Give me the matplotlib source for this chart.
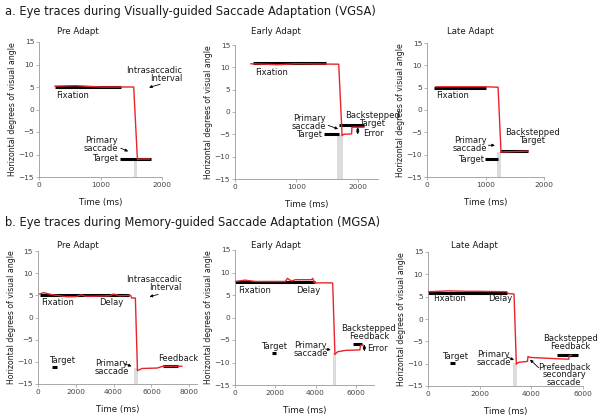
import numpy as np
import matplotlib.pyplot as plt

plt.rcParams['font.family'] = ['DejaVu Sans']

RED = '#e8242c'
BAND = '#dcdcdc'
TXT = '#1a1a1a'

# ---------------- data (time in ms, position in deg) ----------------
# a. Visually-guided saccade adaptation
a_pre_t = [260, 600, 1000, 1350, 1540, 1600, 1650, 1800]
a_pre_eye = [5.2, 5.3, 5.0, 5.0, 5.0, -11.1, -11.0, -11.0]
a_pre_targets = [(260, 1330, 5.0), (1310, 1820, -11.0)]
a_pre_sacc = (1540, 1600, -11.0)

a_early_t = [260, 700, 1000, 1690, 1720, 1745, 1770, 1900, 1905, 2100]
a_early_eye = [10.8, 10.6, 10.8, 10.7, 2.0, -5.3, -5.0, -4.9, -3.4, -3.4]
a_early_targets = [(290, 1490, 11.0), (1450, 1700, -5.0), (1700, 2100, -3.0)]
a_early_sacc = (1670, 1760, -5.0)

a_late_t = [150, 600, 1000, 1215, 1265, 1500, 1730]
a_late_eye = [5.2, 5.2, 5.2, 5.1, -9.4, -9.3, -9.2]
a_late_targets = [(120, 1000, 5.0), (990, 1210, -11.0), (1240, 1730, -9.1)]
a_late_sacc = (1200, 1265, -9.3)

# b. Memory-guided saccade adaptation
b_pre_t = [100, 300, 700, 1000, 1500, 2000, 2300, 2500, 3000, 3800, 4000,
           4300, 4900, 4950, 5150, 5260, 5500, 6300, 6600, 7600]
b_pre_eye = [5.3, 5.6, 5.2, 5.0, 4.7, 4.7, 5.1, 4.8, 4.8, 4.9, 5.3,
             4.9, 5.0, 4.4, 4.4, -12.0, -11.5, -11.4, -11.0, -11.0]
b_pre_targets = [(100, 4800, 5.0), (780, 1040, -11.1), (6600, 7400, -11.0)]
b_pre_sacc = (5100, 5300, -11.5)

b_early_t = [0, 500, 1000, 2500, 2600, 2800, 3000, 3800, 3850, 3950, 4800,
             4850, 4960, 5100, 5500, 6200, 6230, 6350]
b_early_eye = [8.0, 8.3, 8.0, 8.0, 8.7, 8.1, 8.4, 8.4, 8.7, 7.7, 7.7,
               7.6, -8.2, -7.6, -7.3, -7.2, -6.2, -6.1]
b_early_targets = [(0, 3950, 8.0), (1850, 2060, -7.8), (5850, 6300, -5.9)]
b_early_sacc = (4840, 5030, -7.8)

b_late_t = [0, 800, 1500, 2000, 3050, 3100, 3330, 3420, 3500, 3850, 3870,
            3950, 5000, 5450, 5470, 5560]
b_late_eye = [6.1, 6.3, 6.2, 6.2, 6.1, 5.7, 5.6, -10.1, -9.7, -9.5, -8.4,
              -8.6, -8.9, -9.0, -8.2, -8.1]
b_late_targets = [(0, 3060, 5.8), (850, 1050, -9.9), (5010, 5800, -8.0)]
b_late_sacc = (3300, 3450, -9.8)

# ---------------- figure ----------------
W, H = 602, 418
fig = plt.figure(figsize=(W / 100, H / 100), dpi=100)


def px_axes(x0, x1, ytop, ybot):
    return fig.add_axes([x0 / W, 1 - ybot / H, (x1 - x0) / W, (ybot - ytop) / H])


def ftext(x, y, s, **kw):
    fig.text(x / W, 1 - y / H, s, **kw)


def panel(ax, t, eye, targets, sacc, xlim, xticks):
    ax.axvspan(sacc[0], sacc[1], ymin=0, ymax=(sacc[2] + 15) / 30,
               color=BAND, lw=0, zorder=0)
    for t0, t1, y in targets:
        ax.plot([t0, t1], [y, y], color='black', lw=2.2,
                solid_capstyle='butt', zorder=2)
    ax.plot(t, eye, color=RED, lw=1.0, zorder=3)
    ax.set_xlim(*xlim)
    ax.set_ylim(-15, 15)
    ax.set_xticks(xticks)
    ax.set_yticks(np.arange(-15, 16, 5))
    for s in ['top', 'right']:
        ax.spines[s].set_visible(False)
    for s in ['left', 'bottom']:
        ax.spines[s].set_color('#999999')
        ax.spines[s].set_linewidth(0.6)
    ax.tick_params(labelsize=5.3, colors='#999999', labelcolor='#444444',
                   length=2, width=0.5, pad=1.5)
    ax.set_xlabel('Time (ms)', fontsize=6.2, color=TXT, labelpad=7)
    ax.set_ylabel('Horizontal degrees of visual angle', fontsize=5.6,
                  color=TXT, labelpad=1)
    ax.patch.set_alpha(0)


def note(ax, s, x, y, **kw):
    kw.setdefault('fontsize', 6)
    kw.setdefault('color', TXT)
    kw.setdefault('va', 'center')
    kw.setdefault('linespacing', 0.85)
    ax.text(x, y, s, clip_on=False, zorder=5, **kw)


def arrow(ax, start, end, style='-|>'):
    ax.annotate('', xy=end, xytext=start, annotation_clip=False,
                arrowprops=dict(arrowstyle=style, color='black', lw=0.6,
                                mutation_scale=4, shrinkA=0, shrinkB=0))


# section titles
ftext(5, 12, 'a. Eye traces during Visually-guided Saccade Adaptation (VGSA)',
      fontsize=8.3, color=TXT, va='center')
ftext(5, 223, 'b. Eye traces during Memory-guided Saccade Adaptation (MGSA)',
      fontsize=8.3, color=TXT, va='center')

# ---- a. Pre Adapt ----
ax = px_axes(39, 162, 42, 177)
panel(ax, a_pre_t, a_pre_eye, a_pre_targets, a_pre_sacc, (0, 2000), [0, 1000, 2000])
ftext(78, 32, 'Pre Adapt', fontsize=6.2, color=TXT, ha='center', va='center')
note(ax, 'Fixation', 280, 3.2)
note(ax, 'Intrasaccadic\nInterval', 2330, 7.8, ha='right', multialignment='right')
arrow(ax, (1970, 5.6), (1790, 4.9))
note(ax, 'Primary\nsaccade', 1290, -7.7, ha='right', multialignment='center')
arrow(ax, (1330, -8.6), (1450, -9.3))
note(ax, 'Target', 1280, -10.8, ha='right')

# ---- a. Early Adapt ----
ax = px_axes(235, 378, 45, 179)
panel(ax, a_early_t, a_early_eye, a_early_targets, a_early_sacc, (0, 2330),
      [0, 1000, 2000])
ftext(276, 32, 'Early Adapt', fontsize=6.2, color=TXT, ha='center', va='center')
note(ax, 'Fixation', 320, 8.9)
note(ax, 'Backstepped\nTarget', 2240, -1.6, ha='center', multialignment='center')
note(ax, 'Primary\nsaccade', 1490, -2.3, ha='right', multialignment='center')
arrow(ax, (1520, -3.0), (1680, -3.8))
note(ax, 'Target', 1420, -5.0, ha='right')
arrow(ax, (2000, -4.2), (2000, -3.4))
arrow(ax, (2000, -4.2), (2000, -5.0))
note(ax, 'Error', 2080, -4.8, ha='left')

# ---- a. Late Adapt ----
ax = px_axes(427, 544, 43, 177)
panel(ax, a_late_t, a_late_eye, a_late_targets, a_late_sacc, (0, 2000),
      [0, 1000, 2000])
ftext(470, 32, 'Late Adapt', fontsize=6.2, color=TXT, ha='center', va='center')
note(ax, 'Fixation', 150, 3.2)
note(ax, 'Backstepped\nTarget', 1800, -6.0, ha='center', multialignment='center')
note(ax, 'Primary\nsaccade', 1030, -7.8, ha='right', multialignment='center')
arrow(ax, (1050, -7.9), (1160, -7.9))
note(ax, 'Target', 970, -11.0, ha='right')

# ---- b. Pre Adapt ----
ax = px_axes(37.7, 197, 251, 384)
panel(ax, b_pre_t, b_pre_eye, b_pre_targets, b_pre_sacc, (0, 8400),
      [0, 2000, 4000, 6000, 8000])
ftext(78, 245, 'Pre Adapt', fontsize=6.2, color=TXT, ha='center', va='center')
note(ax, 'Fixation', 180, 3.3)
note(ax, 'Delay', 3260, 3.3)
note(ax, 'Intrasaccadic\nInterval', 7600, 7.7, ha='right', multialignment='right')
arrow(ax, (6350, 5.2), (5900, 4.7))
note(ax, 'Target', 1260, -9.6, ha='center')
note(ax, 'Primary\nsaccade', 3900, -11.3, ha='center', multialignment='center')
arrow(ax, (4550, -10.4), (4950, -11.0))
note(ax, 'Feedback', 7400, -9.2, ha='center')

# ---- b. Early Adapt ----
ax = px_axes(235, 374, 250, 385)
panel(ax, b_early_t, b_early_eye, b_early_targets, b_early_sacc, (0, 6900),
      [0, 2000, 4000, 6000])
ftext(276, 245, 'Early Adapt', fontsize=6.2, color=TXT, ha='center', va='center')
note(ax, 'Fixation', 150, 6.0)
note(ax, 'Delay', 3050, 6.0)
note(ax, 'Target', 1930, -6.5, ha='center')
note(ax, 'Primary\nsaccade', 3760, -7.1, ha='center', multialignment='center')
arrow(ax, (4490, -7.0), (4750, -7.2))
note(ax, 'Backstepped\nFeedback', 6650, -3.3, ha='center', multialignment='center')
arrow(ax, (6420, -6.75), (6420, -6.0))
arrow(ax, (6420, -6.75), (6420, -7.5))
note(ax, 'Error', 6570, -6.8, ha='left')

# ---- b. Late Adapt ----
ax = px_axes(428, 583, 252, 386)
panel(ax, b_late_t, b_late_eye, b_late_targets, b_late_sacc, (0, 6000),
      [0, 2000, 4000, 6000])
ftext(474, 246, 'Late Adapt', fontsize=6.2, color=TXT, ha='center', va='center')
note(ax, 'Fixation', 180, 4.5)
note(ax, 'Delay', 2310, 4.5)
note(ax, 'Target', 1030, -8.4, ha='center')
note(ax, 'Primary\nsaccade', 2540, -8.9, ha='center', multialignment='center')
arrow(ax, (3080, -8.5), (3330, -9.2))
note(ax, 'Prefeedback\nsecondary\nsaccade', 5270, -12.5, ha='center',
     multialignment='center', linespacing=0.8)
arrow(ax, (4280, -10.9), (3950, -9.1))
note(ax, 'Backstepped\nFeedback', 5510, -5.2, ha='center', multialignment='center')

fig.savefig('out.png', dpi=100)
